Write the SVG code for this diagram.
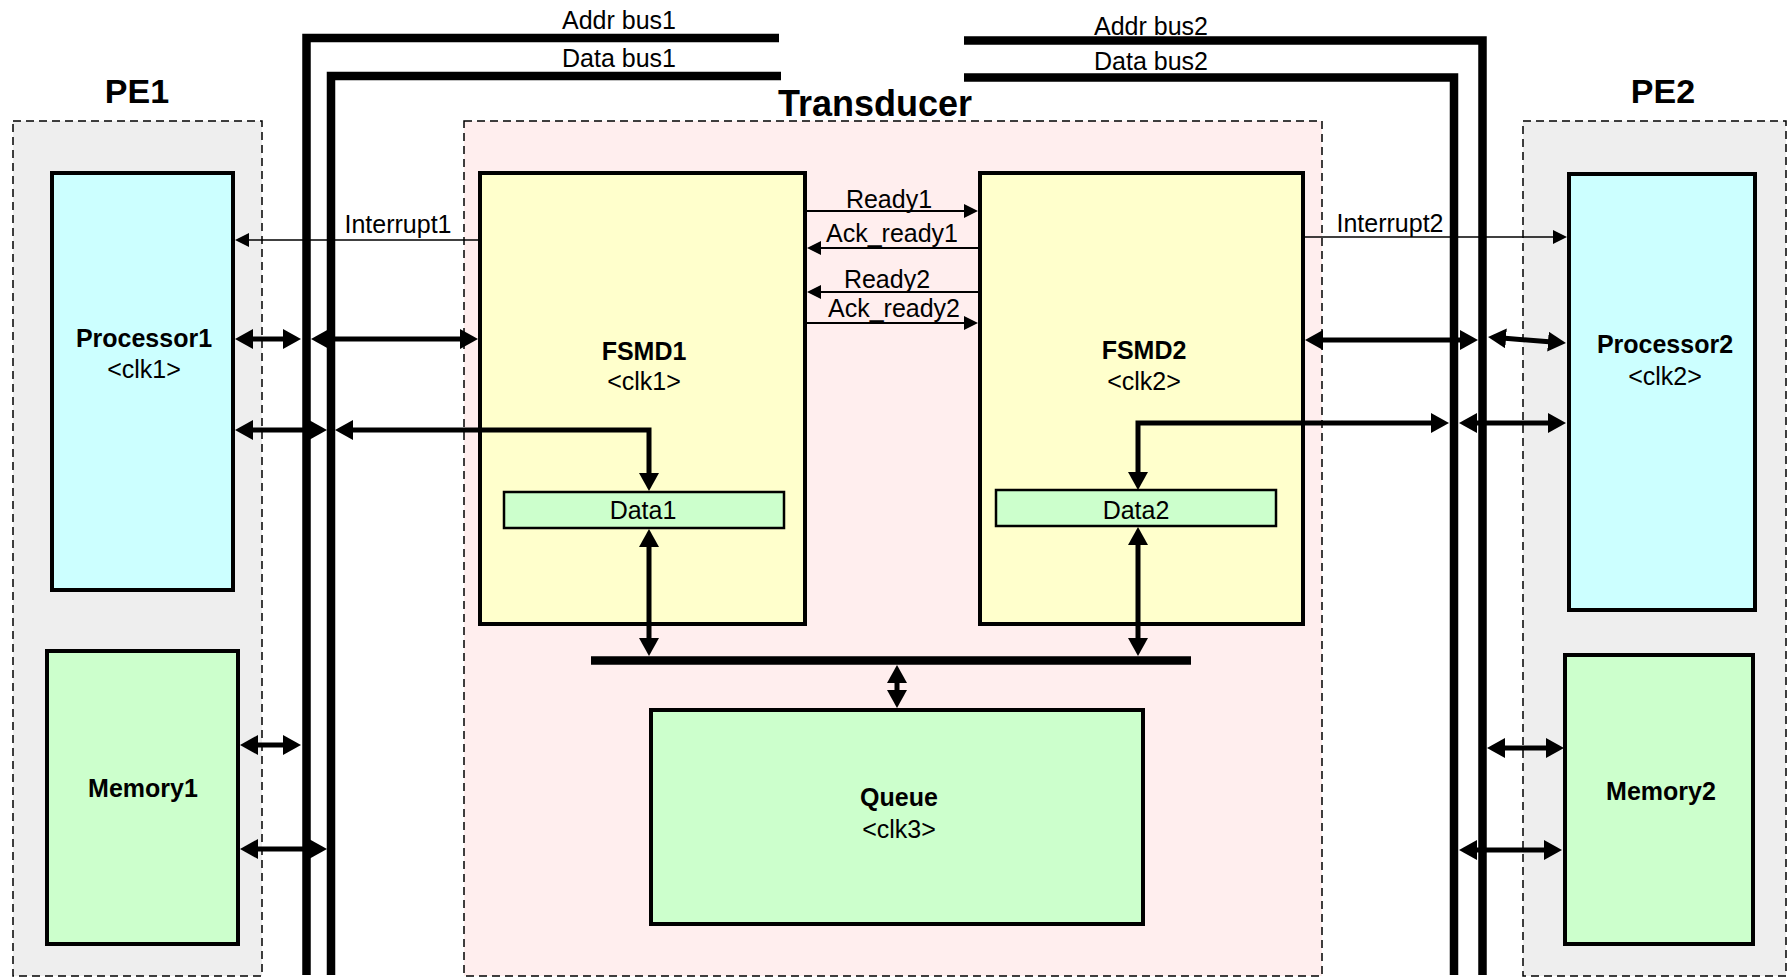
<svg xmlns="http://www.w3.org/2000/svg" width="1790" height="977" viewBox="0 0 1790 977">
<style>
text{font-family:"Liberation Sans",Arial,sans-serif;font-size:25px;fill:#000;text-anchor:middle}
.b{font-weight:bold}
.big{font-weight:bold;font-size:34px}
.region{stroke:#000;stroke-width:1.5;stroke-dasharray:8 5}
.box{stroke:#000;stroke-width:4}
.small{stroke:#000;stroke-width:2.5}
.bus{fill:none;stroke:#000;stroke-width:8.5;stroke-linejoin:miter}
.thick{fill:none;stroke:#000;stroke-width:5;marker-start:url(#ah);marker-end:url(#ah)}
.thin{fill:none;stroke:#000;stroke-width:2;marker-end:url(#as)}
</style>
<defs>
<marker id="ah" viewBox="0 0 18 20" refX="1" refY="10" markerWidth="18" markerHeight="20" markerUnits="userSpaceOnUse" orient="auto-start-reverse"><path d="M0,0 L18,10 L0,20 z" fill="#000"/></marker>
<marker id="as" viewBox="0 0 14 14" refX="1" refY="7" markerWidth="14" markerHeight="14" markerUnits="userSpaceOnUse" orient="auto-start-reverse"><path d="M0,0 L14,7 L0,14 z" fill="#000"/></marker>
</defs>
<rect width="1790" height="977" fill="#fff"/>
<g id="PE1">
<rect class="region" x="13" y="121" width="249" height="855" fill="#eeeeee"/>
<text class="big" x="137" y="103">PE1</text>
</g>
<g id="PE2">
<rect class="region" x="1523" y="121" width="263" height="855" fill="#eeeeee"/>
<text class="big" x="1663" y="103">PE2</text>
</g>
<g id="Transducer">
<rect class="region" x="464" y="121" width="858" height="855" fill="#ffeeee"/>
<text class="b" style="font-size:36px" x="875" y="116">Transducer</text>
</g>
<g id="buses">
<path class="bus" d="M779,38 L306.5,38 L306.5,975"/>
<path class="bus" d="M781,76 L331,76 L331,975"/>
<path class="bus" d="M964,40.5 L1482.5,40.5 L1482.5,975"/>
<path class="bus" d="M964,77.5 L1454,77.5 L1454,975"/>
<path class="bus" d="M591,660.5 L1191,660.5"/>
<text x="619" y="29">Addr bus1</text>
<text x="619" y="67">Data bus1</text>
<text x="1151" y="35">Addr bus2</text>
<text x="1151" y="70">Data bus2</text>
</g>
<g id="Processor1">
<rect class="box" x="52" y="173" width="181" height="417" fill="#ccffff"/>
<text class="b" x="144" y="347">Processor1</text>
<text x="144" y="378">&lt;clk1&gt;</text>
</g>
<g id="Memory1">
<rect class="box" x="47" y="651" width="191" height="293" fill="#ccffcc"/>
<text class="b" x="143" y="797">Memory1</text>
</g>
<g id="Processor2">
<rect class="box" x="1569" y="174" width="186" height="436" fill="#ccffff"/>
<text class="b" x="1665" y="353">Processor2</text>
<text x="1665" y="385">&lt;clk2&gt;</text>
</g>
<g id="Memory2">
<rect class="box" x="1565" y="655" width="188" height="289" fill="#ccffcc"/>
<text class="b" x="1661" y="800">Memory2</text>
</g>
<g id="FSMD1">
<rect class="box" x="480" y="173" width="325" height="451" fill="#ffffcc"/>
<text class="b" x="644" y="360">FSMD1</text>
<text x="644" y="390">&lt;clk1&gt;</text>
</g>
<g id="Data1">
<rect class="small" x="504" y="492" width="280" height="36" fill="#ccffcc"/>
<text x="643" y="519">Data1</text>
</g>
<g id="FSMD2">
<rect class="box" x="980" y="173" width="323" height="451" fill="#ffffcc"/>
<text class="b" x="1144" y="359">FSMD2</text>
<text x="1144" y="390">&lt;clk2&gt;</text>
</g>
<g id="Data2">
<rect class="small" x="996" y="490" width="280" height="36" fill="#ccffcc"/>
<text x="1136" y="519">Data2</text>
</g>
<g id="Queue">
<rect class="box" x="651" y="710" width="492" height="214" fill="#ccffcc"/>
<text class="b" x="899" y="806">Queue</text>
<text x="899" y="838">&lt;clk3&gt;</text>
</g>
<g id="connectors">
<path class="thick" d="M252,339 L284,339"/>
<path class="thick" d="M328,339 L461,339"/>
<path class="thick" d="M252,430 L310,430"/>
<path class="thick" d="M352,430 L649,430 L649,474"/>
<path class="thick" d="M257,745 L284,745"/>
<path class="thick" d="M257,849 L310,849"/>
<path class="thick" d="M649,546 L649,639"/>
<path class="thick" d="M1138,544 L1138,639"/>
<path class="thick" d="M897,682 L897,691"/>
<path class="thick" d="M1322,340 L1461,340"/>
<path class="thick" d="M1505,338.3 L1549,341.7"/>
<path class="thick" d="M1138,473 L1138,423 L1432,423"/>
<path class="thick" d="M1476,423 L1549,423"/>
<path class="thick" d="M1504,748 L1547,748"/>
<path class="thick" d="M1476,850 L1545,850"/>
<path class="thin" style="stroke-width:1.5" d="M478,240 L248,240"/>
<path class="thin" style="stroke-width:1.5" d="M1305,237 L1554,237"/>
<path class="thin" d="M807,211 L965,211"/>
<path class="thin" d="M978,248 L820,248"/>
<path class="thin" d="M978,292 L820,292"/>
<path class="thin" d="M807,323 L965,323"/>
<text x="398" y="233">Interrupt1</text>
<text x="1390" y="232">Interrupt2</text>
<text x="889" y="208">Ready1</text>
<text x="892" y="242">Ack_ready1</text>
<text x="887" y="288">Ready2</text>
<text x="894" y="317">Ack_ready2</text>
</g>
</svg>
